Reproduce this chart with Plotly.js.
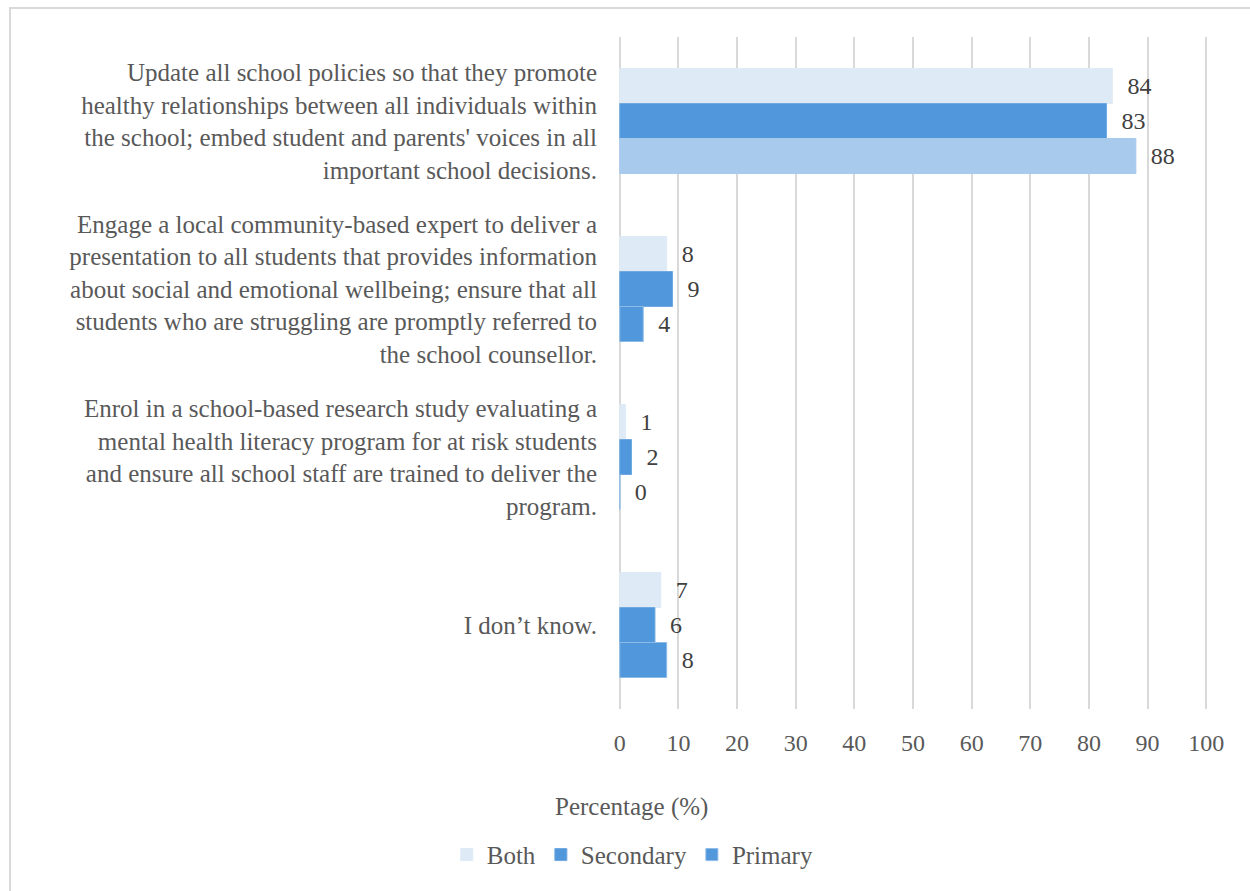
<!DOCTYPE html>
<html>
<head>
<meta charset="utf-8">
<script src="https://cdn.plot.ly/plotly-3.0.1.min.js"></script>
<style>
html,body{margin:0;padding:0;background:#fff;}
#wrap{position:relative;width:1250px;height:891px;overflow:hidden;}
#chart{position:absolute;left:0;top:0;width:1250px;height:891px;}
#frame{position:absolute;left:9px;top:7px;width:1400px;height:1000px;border:2px solid #d9d9d9;pointer-events:none;}
</style>
</head>
<body>
<div id="wrap"><div id="chart"></div><div id="frame"></div></div>
<script>
const categories = [
  "Update all school policies so that they promote<br>healthy relationships between all individuals within<br>the school; embed student and parents' voices in all<br>important school decisions.",
  "Engage a local community-based expert to deliver a<br>presentation to all students that provides information<br>about social and emotional wellbeing; ensure that all<br>students who are struggling are promptly referred to<br>the school counsellor.",
  "Enrol in a school-based research study evaluating a<br>mental health literacy program for at risk students<br>and ensure all school staff are trained to deliver the<br>program.",
  "I don’t know."
];
const both = [84, 8, 1, 7];
const secondary = [83, 9, 2, 6];
const primary = [88, 4, 0, 8];
const primaryColors = ['#A8CAEC', '#5197DB', '#5197DB', '#5197DB'];
const primaryEdges = ['#A8CAEC', '#8DBBE8', '#8DBBE8', '#8DBBE8'];
const tickVals = [0,10,20,30,40,50,60,70,80,90,100];

const FONT = "Liberation Serif, Times New Roman, serif";
const WORD = 25, NUM = 24;
const labelText = arr => arr.map(v => "\u00a0\u00a0" + v);

// Primary listed starting from its second point so the legend swatch takes the medium blue
const pOrder = [1, 2, 3, 0];

const common = {
  type: 'bar', orientation: 'h',
  textposition: 'outside', cliponaxis: false,
  textfont: {family: FONT, size: NUM, color: '#404040'},
  hoverinfo: 'x+name'
};

const traces = [
  Object.assign({}, common, {
    name: 'Both', y: categories, x: both, text: labelText(both),
    marker: {color: '#DEEBF7', line: {color: '#DEEBF7', width: 1}}
  }),
  Object.assign({}, common, {
    name: 'Secondary', y: categories, x: secondary, text: labelText(secondary),
    marker: {color: '#5197DB', line: {color: '#6FA9E0', width: 1}}
  }),
  Object.assign({}, common, {
    name: 'Primary',
    y: pOrder.map(i => categories[i]),
    x: pOrder.map(i => primary[i]),
    text: labelText(pOrder.map(i => primary[i])),
    marker: {color: pOrder.map(i => primaryColors[i]),
             line: {color: pOrder.map(i => primaryEdges[i]), width: 1}}
  })
];

const layout = {
  width: 1250, height: 891,
  margin: {l: 618, r: 42, t: 37, b: 182},
  paper_bgcolor: '#ffffff', plot_bgcolor: '#ffffff',
  font: {family: FONT, size: WORD, color: '#595959'},
  barmode: 'group', bargap: 0.375, bargroupgap: 0,
  showlegend: true,
  legend: {orientation: 'h', x: 0.025, xanchor: 'center', y: -0.217, yanchor: 'middle',
           font: {family: FONT, size: WORD, color: '#595959'}, traceorder: 'normal',
           itemwidth: 30, tracegroupgap: 0},
  xaxis: {
    range: [-0.3, 100.3], tickvals: tickVals, ticktext: tickVals.map(String),
    showgrid: true, gridcolor: '#d9d9d9', gridwidth: 2,
    zeroline: false, showline: false, ticks: '',
    ticklabelstandoff: 17,
    tickfont: {family: FONT, size: NUM, color: '#595959'},
    fixedrange: true
  },
  yaxis: {
    categoryorder: 'array', categoryarray: categories,
    autorange: 'reversed', showgrid: false, zeroline: false, showline: false,
    ticks: '', ticklabelstandoff: 20,
    tickfont: {family: FONT, size: WORD, color: '#595959'},
    fixedrange: true
  },
  annotations: [{
    text: 'Percentage (%)', xref: 'paper', yref: 'paper', x: 0.023, y: -0.146,
    xanchor: 'center', yanchor: 'middle', showarrow: false,
    font: {family: FONT, size: WORD, color: '#595959'}
  }]
};

Plotly.newPlot('chart', traces, layout, {displayModeBar: false, staticPlot: true});
</script>
</body>
</html>
